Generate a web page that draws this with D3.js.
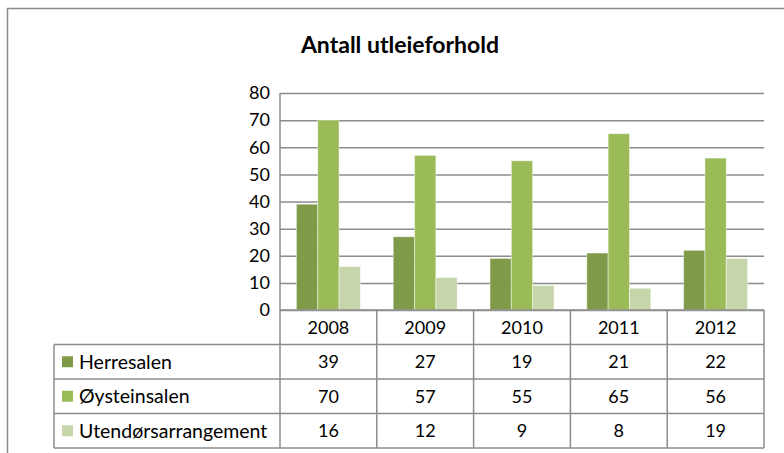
<!DOCTYPE html>
<html>
<head>
<meta charset="utf-8">
<script src="https://cdn.jsdelivr.net/npm/d3@7"></script>
<style>
  body { margin: 0; background: #fff; }
  svg text { font-family: Lato, "Open Sans", sans-serif; fill: #000; }
</style>
</head>
<body>
<svg id="chart" width="784" height="453"></svg>
<script>
// DATA
const years = ["2008", "2009", "2010", "2011", "2012"];
const seriesNames = ["Herresalen", "Øysteinsalen", "Utendørsarrangement"];
const herresalen = [39, 27, 19, 21, 22];
const oysteinsalen = [70, 57, 55, 65, 56];
const utendors = [16, 12, 9, 8, 19];
const yTicks = [0, 10, 20, 30, 40, 50, 60, 70, 80];
const colors = ["#7f9a48", "#9bbb59", "#c7d6aa"];

const seriesValues = [herresalen, oysteinsalen, utendors];
const rows = seriesNames.map((name, i) => ({ name, values: seriesValues[i], color: colors[i] }));

const svg = d3.select("svg#chart");
const gridColor = "#8c8c8c";

const plot = { left: 280, right: 764, top: 93, bottom: 310 };
const tableLeft = 54;
const tableBottom = 448;

// outer frame (runs off the right and bottom edge)
svg.append("rect")
    .attr("x", 7.5).attr("y", 8.5)
    .attr("width", 800).attr("height", 460)
    .attr("fill", "none")
    .attr("stroke", "#8a8a8a")
    .attr("stroke-width", 1.5);

// title
svg.append("text")
    .attr("x", 400).attr("y", 53)
    .attr("text-anchor", "middle")
    .attr("font-weight", "bold")
    .attr("font-size", 23)
    .text("Antall utleieforhold");

// SCALES
const xScale = d3.scaleBand()
    .domain(years)
    .range([plot.left, plot.right])
    .padding(0);

const xInner = d3.scaleBand()
    .domain(d3.range(seriesNames.length))
    .range([0, xScale.bandwidth()])
    .paddingInner(0)
    .paddingOuter(0.77);

const yScale = d3.scaleLinear()
    .domain([0, 80])
    .range([plot.bottom, plot.top]);

// GRID + Y AXIS
const yAxis = g => g.attr("transform", `translate(${plot.left},0)`)
    .call(d3.axisLeft(yScale).tickValues(yTicks).tickSize(-(plot.right - plot.left)).tickPadding(10))
    .call(g => g.select(".domain").remove())
    .call(g => g.selectAll(".tick line").attr("stroke", gridColor).attr("stroke-width", 1.5))
    .call(g => g.selectAll(".tick text")
        .attr("font-size", 18)
        .attr("fill", "#000")
        .attr("font-family", "Lato, sans-serif"));

svg.append("g").call(yAxis);

svg.append("line")
    .attr("x1", plot.left).attr("x2", plot.left)
    .attr("y1", plot.top).attr("y2", plot.bottom)
    .attr("stroke", gridColor).attr("stroke-width", 1.5);

// BARS
const groups = svg.append("g").selectAll("g")
    .data(rows)
    .join("g")
    .attr("fill", d => d.color);

groups.selectAll("rect")
    .data((d, i) => d.values.map((v, j) => ({ v, year: years[j], s: i })))
    .join("rect")
    .attr("x", d => xScale(d.year) + xInner(d.s))
    .attr("y", d => yScale(d.v))
    .attr("width", xInner.bandwidth())
    .attr("height", d => yScale(0) - yScale(d.v))
    .attr("stroke", "rgba(255,255,255,0.45)")
    .attr("stroke-width", 1);

// DATA TABLE
const rowScale = d3.scaleBand()
    .domain(["header", ...seriesNames])
    .range([plot.bottom, tableBottom]);

const table = svg.append("g")
    .attr("stroke", gridColor)
    .attr("stroke-width", 1.5);

// horizontal lines
table.selectAll("line.h")
    .data(seriesNames)
    .join("line")
    .attr("class", "h")
    .attr("x1", tableLeft).attr("x2", plot.right)
    .attr("y1", d => rowScale(d)).attr("y2", d => rowScale(d));

table.append("line")
    .attr("x1", plot.left).attr("x2", plot.right)
    .attr("y1", plot.bottom).attr("y2", plot.bottom);

table.append("line")
    .attr("x1", tableLeft).attr("x2", plot.right)
    .attr("y1", tableBottom).attr("y2", tableBottom);

table.append("line")
    .attr("x1", tableLeft).attr("x2", tableLeft)
    .attr("y1", rowScale(seriesNames[0])).attr("y2", tableBottom);

// vertical lines
table.selectAll("line.v")
    .data([...years.map(y => xScale(y)), plot.right])
    .join("line")
    .attr("class", "v")
    .attr("x1", d => d).attr("x2", d => d)
    .attr("y1", plot.bottom).attr("y2", tableBottom);

// year headers
svg.append("g").selectAll("text")
    .data(years)
    .join("text")
    .attr("x", d => xScale(d) + xScale.bandwidth() / 2)
    .attr("y", rowScale("header") + rowScale.bandwidth() / 2)
    .attr("dy", "0.36em")
    .attr("text-anchor", "middle")
    .attr("font-size", 18)
    .text(d => d);

// rows
const rowG = svg.append("g").selectAll("g")
    .data(rows)
    .join("g")
    .attr("transform", d => `translate(0,${rowScale(d.name) + rowScale.bandwidth() / 2})`);

rowG.append("rect")
    .attr("x", 62).attr("y", -5.5)
    .attr("width", 11).attr("height", 11)
    .attr("fill", d => d.color);

rowG.append("text")
    .attr("x", 79)
    .attr("dy", "0.36em")
    .attr("font-size", 19.5)
    .text(d => d.name);

rowG.selectAll("text.val")
    .data(d => d.values.map((v, j) => ({ v, year: years[j] })))
    .join("text")
    .attr("class", "val")
    .attr("x", d => xScale(d.year) + xScale.bandwidth() / 2)
    .attr("dy", "0.36em")
    .attr("text-anchor", "middle")
    .attr("font-size", 18)
    .text(d => d.v);
</script>
</body>
</html>
